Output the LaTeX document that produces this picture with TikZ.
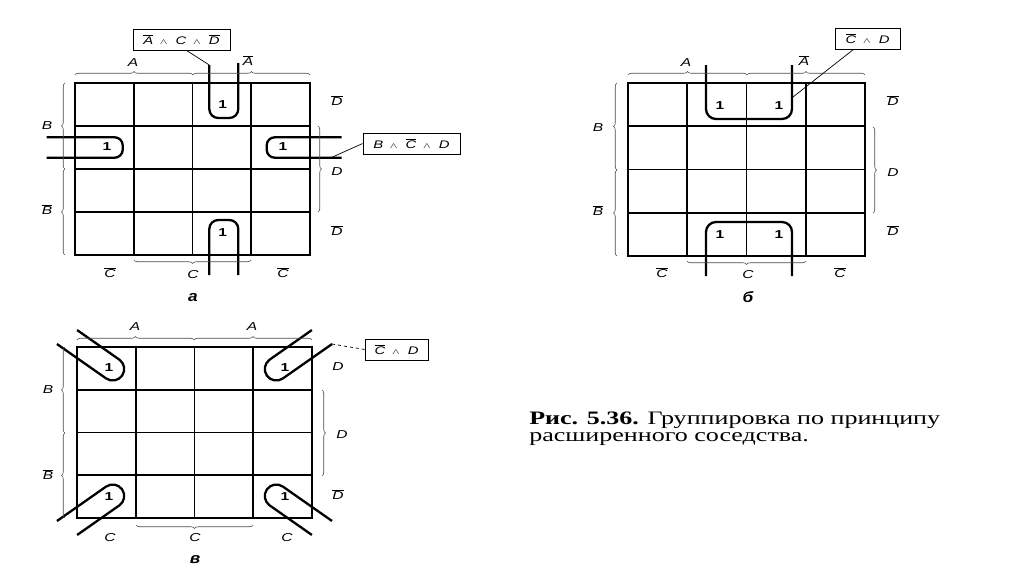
\documentclass[tikz,border=0pt]{standalone}
\usepackage{fontspec}
\usepackage{graphicx}
\setmainfont{Liberation Serif}
\newfontfamily\lsans{Liberation Sans}
\usetikzlibrary{decorations.pathreplacing}
\newcommand\nb[1]{$\overline{\mbox{#1}}$}
\newcommand\wg{\hspace{5pt}$\scriptstyle\wedge$\hspace{6pt}}
\newcommand\sx[1]{\scalebox{1.35}[1]{#1}}
\newcommand\kmap[4]{%
  \draw[kgrid] (#1,#2) rectangle ++(#3,#4);
  \foreach \i in {1,2,3} {
    \draw[kgrid] ({#1+\i*#3/4},#2) -- ++(0,#4);
    \draw[kgrid] (#1,{#2+\i*#4/4}) -- ++(#3,0);
  }}
\newcommand\capsule[2]{%
  \begin{scope}[#1]
    \draw[grp, rounded corners=11.5pt] (-51.5,-11.5) -- (11.5,-11.5) -- (11.5,11.5) -- (-60,11.5);
    \coordinate (#2) at (-60,11.5);
  \end{scope}}
\begin{document}
\begin{tikzpicture}[x=1pt,y=-1pt,
  kgrid/.style={line width=1.6pt},
  grp/.style={line width=2.3pt},
  lbl/.style={font=\lsans\itshape\fontsize{11.5}{12}\selectfont, inner sep=0pt, xscale=1.35},
  onelbl/.style={font=\lsans\bfseries\fontsize{11.5}{12}\selectfont, inner sep=0pt, xscale=1.35},
  brc/.style={decorate, decoration={brace, amplitude=3.5pt}, gray!60!black, line width=0.6pt},
  exprbox/.style={draw, line width=0.8pt, font=\lsans\itshape\fontsize{11}{12}\selectfont, minimum height=21pt, inner xsep=2pt},
  conn/.style={line width=0.7pt},
  sublbl/.style={font=\lsans\itshape\bfseries\fontsize{15}{16}\selectfont, inner sep=0pt, xscale=1.15},
  captxt/.style={font=\fontsize{19}{17}\selectfont, align=left, anchor=north west, inner sep=0pt, xscale=1.37}
]
\useasboundingbox (0,0) rectangle (1024,574);
\fill[white] (0,0) rectangle (1024,574);

%%%%%%%%%%%%%%%% map a
\kmap{75}{83}{235}{172}
\draw[grp, rounded corners=9pt] (209.3,65) coordinate (aTopL) -- (209.3,118) -- (238.3,118) -- (238.3,63);
\draw[grp, rounded corners=9pt] (209.3,275) -- (209.3,220) -- (238.3,220) -- (238.3,275);
\draw[grp, rounded corners=8pt] (46.7,137.3) -- (122.7,137.3) -- (122.7,157.7) -- (46.7,157.7);
\draw[grp, rounded corners=8pt] (341.7,137.3) -- (266.7,137.3) -- (266.7,157.7) -- (341.7,157.7);
\coordinate (aRightC) at (331,157.7);
\node[onelbl] (a1) at (222.7,105) {1};
\node[onelbl] (a2) at (222.7,233) {1};
\node[onelbl] (a3) at (107,147) {1};
\node[onelbl] (a4) at (283,147) {1};
\node[lbl] (aA) at (133,63) {A};
\node[lbl] (aAn) at (248,61) {\nb{A}};
\node[lbl] (aB) at (47,126) {B};
\node[lbl] (aBn) at (47,210) {\nb{B}};
\node[lbl] (aDn1) at (337,101) {\nb{D}};
\node[lbl] (aD) at (337,172) {D};
\node[lbl] (aDn2) at (337,231) {\nb{D}};
\node[lbl] (aCn1) at (110,273) {\nb{C}};
\node[lbl] (aC) at (193,275) {C};
\node[lbl] (aCn2) at (283,273) {\nb{C}};
\node[sublbl] (aSub) at (193,298) {а};
\draw[brc] (75,75) -- (193,75);
\draw[brc] (193,75) -- (310,75);
\draw[brc] (65,169) -- (65,83);
\draw[brc] (65,255) -- (65,169);
\draw[brc] (318,126) -- (318,212);
\draw[brc] (251,260) -- (134,260);
\node[exprbox, minimum width=97pt] (aBox1) at (181.5,39.5) {\sx{\nb{A}\wg C\wg\nb{D}}};
\node[exprbox, minimum width=97pt] (aBox2) at (411.5,143.5) {\sx{B\wg\nb{C}\wg D}};
\draw[conn] ([xshift=5pt]aBox1.south) -- (aTopL);
\draw[conn] (aRightC) -- (aBox2.west);

%%%%%%%%%%%%%%%% map b
\kmap{628}{83}{237}{173}
\draw[grp, rounded corners=10pt] (706,65) -- (706,119) -- (792,119) -- (792,65);
\draw[grp, rounded corners=10pt] (706,276) -- (706,222) -- (792,222) -- (792,276);
\coordinate (bTopR) at (793,97);
\node[onelbl] (b1) at (720,106) {1};
\node[onelbl] (b2) at (779,106) {1};
\node[onelbl] (b3) at (720,235) {1};
\node[onelbl] (b4) at (779,235) {1};
\node[lbl] (bA) at (686,63) {A};
\node[lbl] (bAn) at (804,61) {\nb{A}};
\node[lbl] (bB) at (598,128) {B};
\node[lbl] (bBn) at (598,211) {\nb{B}};
\node[lbl] (bDn1) at (893,101) {\nb{D}};
\node[lbl] (bD) at (893,173) {D};
\node[lbl] (bDn2) at (893,231) {\nb{D}};
\node[lbl] (bCn1) at (662,273) {\nb{C}};
\node[lbl] (bC) at (748,275) {C};
\node[lbl] (bCn2) at (840,273) {\nb{C}};
\node[sublbl] (bSub) at (748,297) {б};
\draw[brc] (628,75) -- (747,75);
\draw[brc] (747,75) -- (865,75);
\draw[brc] (617,170) -- (617,83);
\draw[brc] (617,256) -- (617,170);
\draw[brc] (873,127) -- (873,213);
\draw[brc] (806,261) -- (687,261);
\node[exprbox, minimum width=65pt] (bBox) at (867.5,38.5) {\sx{\nb{C}\wg D}};
\draw[conn] ([xshift=-14pt]bBox.south) -- (bTopR);

%%%%%%%%%%%%%%%% map v
\kmap{77}{347}{235}{171}
\capsule{shift={(112.7,369)}, rotate=-35}{vTL}
\capsule{shift={(276.3,369)}, xscale=-1, rotate=-35}{vTR}
\capsule{shift={(112.7,496)}, yscale=-1, rotate=-35}{vBL}
\capsule{shift={(276.3,496)}, xscale=-1, yscale=-1, rotate=-35}{vBR}
\node[onelbl] (v1) at (109,368) {1};
\node[onelbl] (v2) at (285,368) {1};
\node[onelbl] (v3) at (109,497) {1};
\node[onelbl] (v4) at (285,497) {1};
\node[lbl] (vA1) at (135,327) {A};
\node[lbl] (vA2) at (252,327) {A};
\node[lbl] (vB) at (48,390) {B};
\node[lbl] (vBn) at (48,475) {\nb{B}};
\node[lbl] (vD1) at (338,367) {D};
\node[lbl] (vD2) at (342,435) {D};
\node[lbl] (vDn) at (338,495) {\nb{D}};
\node[lbl] (vC1) at (110,538) {C};
\node[lbl] (vC2) at (195,538) {C};
\node[lbl] (vC3) at (287,538) {C};
\node[sublbl] (vSub) at (195,560) {в};
\draw[brc] (77,340) -- (194,340);
\draw[brc] (194,340) -- (312,340);
\draw[brc] (65,433) -- (65,347);
\draw[brc] (65,518) -- (65,433);
\draw[brc] (322,390) -- (322,476);
\draw[brc] (253,525) -- (136,525);
\node[exprbox, minimum width=63pt] (vBox) at (396.5,349.5) {\sx{\nb{C}\wg D}};
\draw[conn, dashed] (vTR) -- (vBox.west);

%%%%%%%%%%%%%%%% caption
\node[captxt] (cap) at (529,412) {\textbf{Рис. 5.36.} Группировка по принципу\\расширенного соседства.};
\end{tikzpicture}
\end{document}
